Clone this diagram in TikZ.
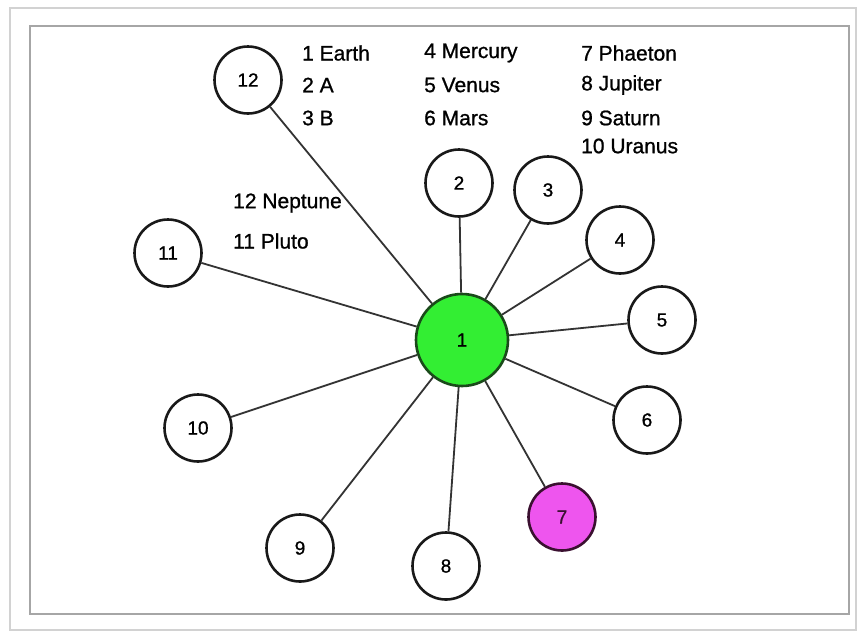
\documentclass[tikz,border=0pt]{standalone}
\usepackage{fontspec}
\setmainfont{Liberation Sans}
\newfontfamily\heavyfont[FakeBold=0.9]{Liberation Sans}
\definecolor{earthgreen}{HTML}{33EE33}
\definecolor{earthline}{HTML}{1A4A1A}
\definecolor{phaeton}{HTML}{EE55EE}
\definecolor{phaetonline}{HTML}{3A1030}
\definecolor{edgegray}{HTML}{333333}
\begin{document}
\begin{tikzpicture}[x=1pt,y=-1pt,
  planet/.style={circle,draw=black!90,line width=2.6pt,fill=white,minimum size=67pt,inner sep=0pt,
    font=\heavyfont\fontsize{19}{21}\selectfont},
  link/.style={draw=edgegray,line width=1.8pt},
  legend/.style={anchor=west,inner sep=0pt,font=\heavyfont\fontsize{21}{23}\selectfont}]
\useasboundingbox (0,0) rectangle (858,632);
\fill[white] (0,0) rectangle (858,632);
\draw[gray!35,line width=2pt] (10,8) rectangle (856,630);
\draw[gray!70,line width=1.2pt] (30,26) rectangle (849,614);

\node[planet,minimum size=92pt,fill=earthgreen,draw=earthline] (n1) at (462,340) {1};
\node[planet] (n2) at (459,183) {2};
\node[planet] (n3) at (548,190) {3};
\node[planet] (n4) at (620,240) {4};
\node[planet] (n5) at (662,320) {5};
\node[planet] (n6) at (647,420) {6};
\node[planet,fill=phaeton,draw=phaetonline,text=phaetonline] (n7) at (562,517) {7};
\node[planet] (n8) at (446,566) {8};
\node[planet] (n9) at (300,548) {9};
\node[planet] (n10) at (198,428) {10};
\node[planet] (n11) at (168,253) {11};
\node[planet] (n12) at (248,80) {12};

\foreach \k in {2,...,12} {\draw[link] (n1) -- (n\k);}

\node[legend] (t1) at (302,53) {1 Earth};
\node[legend] (t2) at (302,85) {2 A};
\node[legend] (t3) at (302,118) {3 B};
\node[legend] (t4) at (424,53) {4 Mercury};
\node[legend] (t5) at (424,85) {5 Venus};
\node[legend] (t6) at (424,118) {6 Mars};
\node[legend] (t7) at (581,53) {7 Phaeton};
\node[legend] (t8) at (581,85) {8 Jupiter};
\node[legend] (t9) at (581,118) {9 Saturn};
\node[legend] (t10) at (581,146) {10 Uranus};
\node[legend] (t12) at (233,203) {12 Neptune};
\node[legend] (t11) at (233,241) {11 Pluto};
\end{tikzpicture}
\end{document}
